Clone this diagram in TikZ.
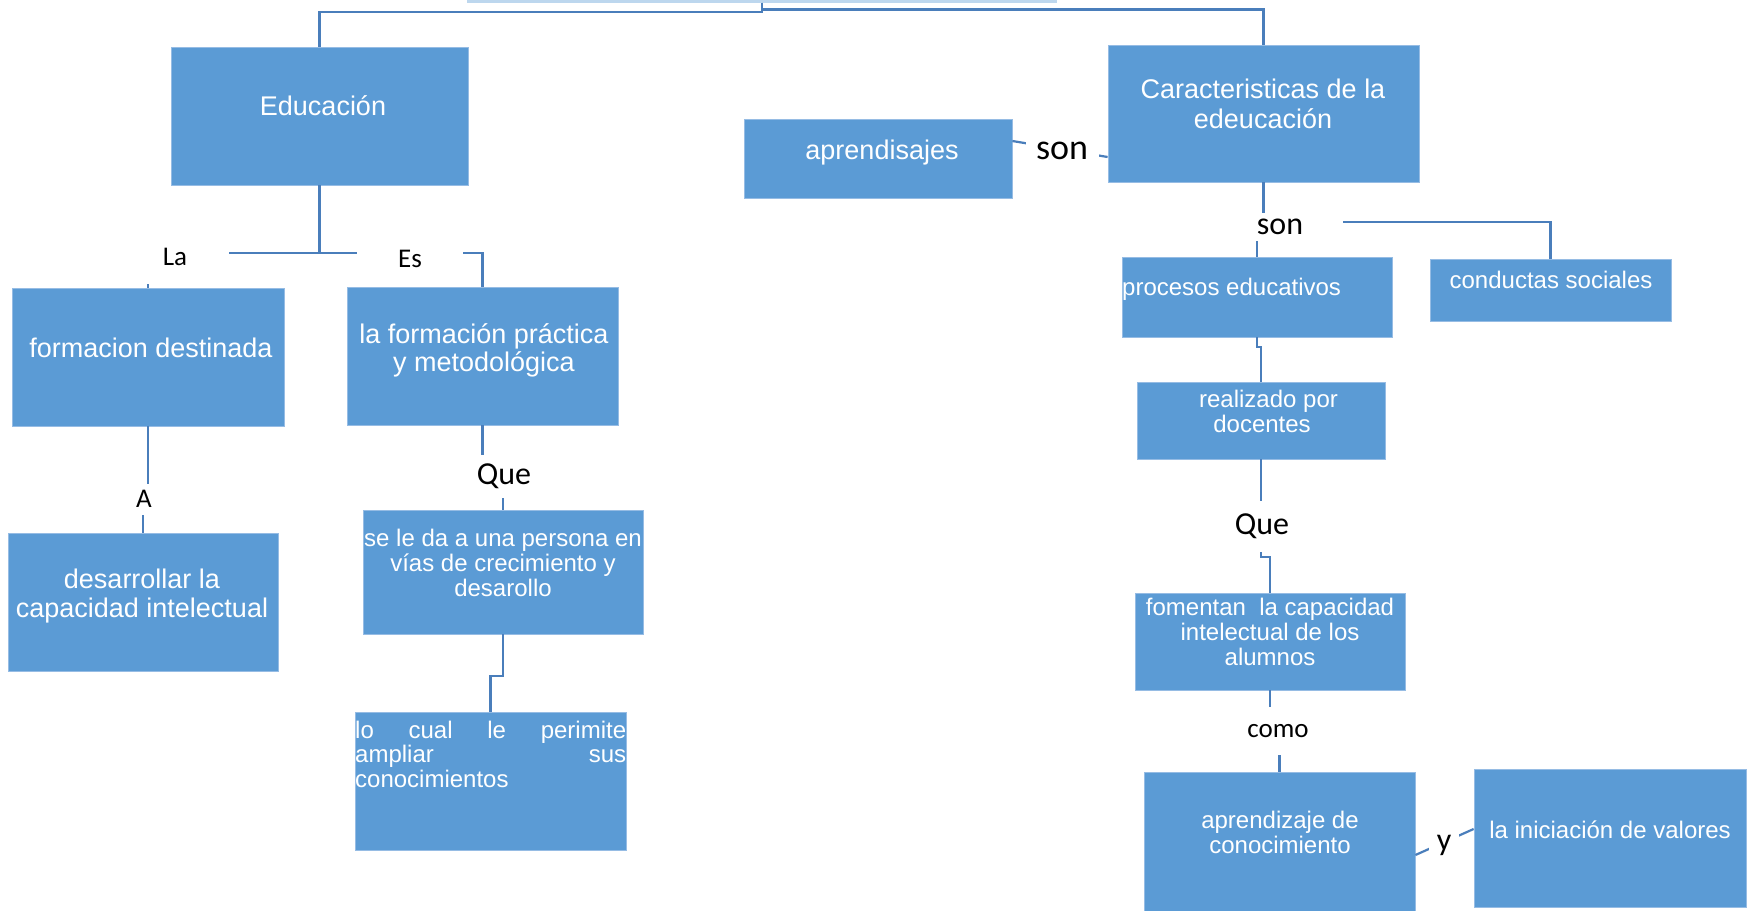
\documentclass[tikz,border=0pt]{standalone}
\usepackage{fontspec}
\setmainfont{Liberation Sans}
\newfontfamily\lblfont{Carlito}
\definecolor{boxblue}{RGB}{91,155,213}
\definecolor{boxedge}{RGB}{150,188,228}
\definecolor{linkblue}{RGB}{74,126,187}
\definecolor{titleblue}{RGB}{189,215,238}
\begin{document}
\begin{tikzpicture}[x=1pt,y=-1pt,
  box/.style={fill=boxblue, draw=boxedge, line width=0.8pt, inner sep=0pt},
  btxt/.style={text=white, align=center, inner sep=0pt},
  big/.style={font=\fontsize{27}{30}\selectfont},
  small/.style={font=\fontsize{24}{24.8}\selectfont},
  lbl/.style={fill=white, inner sep=0pt, text=black},
  conn/.style={draw=linkblue, line width=2.2pt}]
\clip (0,0) rectangle (1750,910);
\useasboundingbox (0,0) rectangle (1750,910);
\fill[white] (0,0) rectangle (1750,910);

% title fragment
\node[fill=titleblue, minimum width=590pt, minimum height=8pt, inner sep=0pt] (title) at (762,-1.5) {};

% boxes
\node[box, minimum width=297pt, minimum height=138pt] (edu) at (319.5,116) {};
\node[box, minimum width=311pt, minimum height=137pt] (car) at (1263.5,113.5) {};
\node[box, minimum width=268pt, minimum height=79pt] (apr) at (878,158.5) {};
\node[box, minimum width=272pt, minimum height=138pt] (fd) at (148,357) {};
\node[box, minimum width=271pt, minimum height=138pt] (fp) at (482.5,356) {};
\node[box, minimum width=270pt, minimum height=138pt] (des) at (143,602) {};
\node[box, minimum width=280pt, minimum height=124pt] (sel) at (503,572) {};
\node[box, minimum width=271pt, minimum height=138pt] (lo) at (490.5,781) {};
\node[box, minimum width=270pt, minimum height=80pt] (pe) at (1257,297) {};
\node[box, minimum width=241pt, minimum height=62pt] (cs) at (1550.5,290) {};
\node[box, minimum width=248pt, minimum height=77pt] (rp) at (1261,420.5) {};
\node[box, minimum width=270pt, minimum height=97pt] (fo) at (1270,641.5) {};
\node[box, minimum width=271pt, minimum height=140pt] (ac) at (1279.5,842) {};
\node[box, minimum width=272pt, minimum height=138pt] (iv) at (1610,838) {};

% box texts
\node[btxt, big] (edut) at (323,106) {Educación};
\node[btxt, big] (cart) at (1263,104) {Caracteristicas de la\\edeucación};
\node[btxt, big] (aprt) at (882,152.5) {aprendisajes};
\node[btxt, big] (fdt) at (151,348) {formacion destinada};
\node[btxt, big, font=\fontsize{27}{28}\selectfont] (fpt) at (484,350) {la formación práctica\\y metodológica};
\node[btxt, big, font=\fontsize{27}{29}\selectfont] (dest) at (142,596) {desarrollar la\\capacidad intelectual};
\node[btxt, small] (selt) at (503,563) {se le da a una persona en\\vías de crecimiento y\\desarollo};
\node[btxt, small, anchor=base west] (lot) at (355,738) {\parbox[t]{271pt}{\makebox[271pt][s]{lo cual le perimite}\\\makebox[271pt][s]{ampliar sus}\\conocimientos}};
\node[btxt, small, anchor=west] (pet) at (1122,289) {procesos educativos};
\node[btxt, small] (cst) at (1551,280) {conductas sociales};
\node[btxt, small] (rpt) at (1262,411.5) {\hspace*{13pt}realizado por\\docentes};
\node[btxt, small] (fot) at (1270,632) {fomentan~ la capacidad\\intelectual de los\\alumnos};
\node[btxt, small] (act) at (1280,832.5) {aprendizaje de\\conocimiento};
\node[btxt, small] (ivt) at (1610,830) {la iniciación de valores};

% connectors
\draw[conn] (title.south) -- (762,12) -| (edu.north);
\draw[conn] (title.south) -- (762,9.5) -| (car.north);
\draw[conn] (edu.south) -- (319.5,253);
\draw[conn] (fd.north) |- (319.5,253) -| (fp.north);
\draw[conn] (fd.south) -- (148,498) -- (143,498) -- (des.north);
\draw[conn] (fp.south) -- (482.5,475) -- (503,475) -- (sel.north);
\draw[conn] (sel.south) -- (503,676) -| (lo.north);
\draw[conn] ([yshift=17.5pt]apr.east) -- ([yshift=-43.5pt]car.west);
\draw[conn] (car.south) -- (1263.5,222) -- (1257,222) -- (pe.north);
\draw[conn] (1263.5,222) -| (cs.north);
\draw[conn] (pe.south) -- (1257,347) -- (1261,347) -- (rp.north);
\draw[conn] (rp.south) -- (1261,557) -- (1270,557) -- (fo.north);
\draw[conn] (fo.south) -- (1270,729) -- (1279.5,729) -- (ac.north);
\draw[conn] ([yshift=-13pt]ac.east) -- ([yshift=9pt]iv.west);

% labels (white masks over connectors)
\node[lbl, minimum width=108pt, minimum height=54pt, font=\lblfont\fontsize{27}{30}\selectfont] (la) at (175,257) {La};
\node[lbl, minimum width=106pt, minimum height=54pt, font=\lblfont\fontsize{27}{30}\selectfont] (es) at (410,259) {Es};
\node[lbl, minimum width=40pt, minimum height=31pt, font=\lblfont\fontsize{27}{30}\selectfont] (a) at (144,499) {A};
\node[lbl, minimum width=60pt, minimum height=43pt, font=\lblfont\fontsize{32}{36}\selectfont] (que1) at (504,476.5) {Que};
\node[lbl, minimum width=73pt, minimum height=50pt, font=\lblfont\fontsize{36}{40}\selectfont] (son1) at (1062,150.5) {son};
\node[lbl, minimum width=126pt, minimum height=28pt, font=\lblfont\fontsize{32}{36}\selectfont] (son2) at (1280,227) {son};
\node[lbl, minimum width=76pt, minimum height=51pt, font=\lblfont\fontsize{32}{36}\selectfont] (que2) at (1262,526.5) {Que};
\node[lbl, minimum width=76pt, minimum height=48pt, font=\lblfont\fontsize{27}{30}\selectfont] (como) at (1278,731) {como};
\node[lbl, minimum width=30pt, minimum height=40pt, font=\lblfont\fontsize{32}{36}\selectfont] (y) at (1444,845) {y};
\end{tikzpicture}
\end{document}
